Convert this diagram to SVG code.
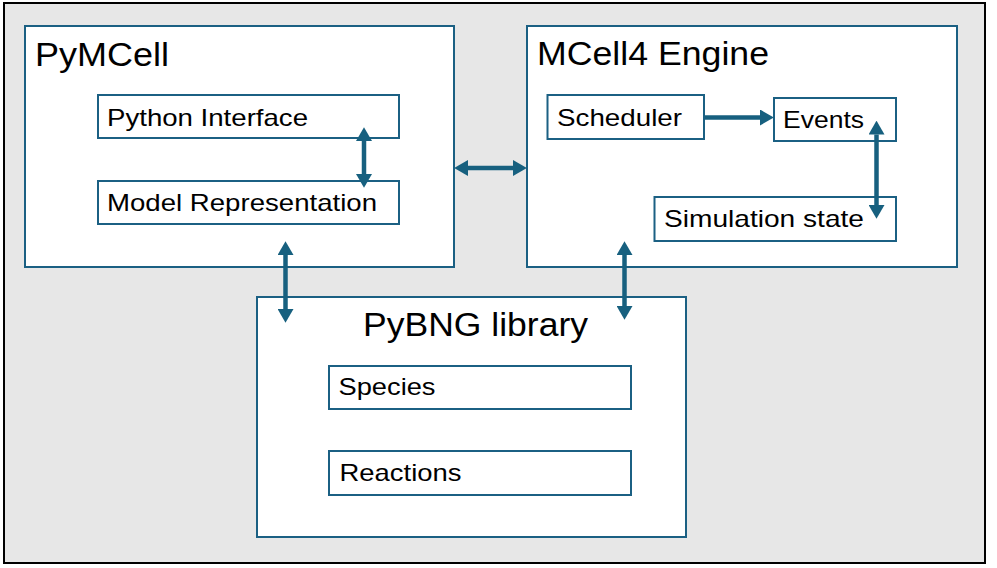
<svg xmlns="http://www.w3.org/2000/svg" width="997" height="568" viewBox="0 0 997 568">
<style>
.box{fill:#fff;stroke:#1b6083;stroke-width:2}
.t{font-family:"Liberation Sans",Arial,sans-serif;fill:#000}
.big{font-size:33px}
.sm{font-size:24px}
.c{stroke:#17607f;stroke-width:4.5;fill:none}
</style>
<defs>
<marker id="ah" markerUnits="userSpaceOnUse" markerWidth="14" markerHeight="16" refX="0" refY="7.5" orient="auto-start-reverse" viewBox="0 0 13 15">
<path d="M0,0 L13,7.5 L0,15 Z" fill="#17607f"/>
</marker>
</defs>
<rect x="4" y="3" width="981" height="560" fill="#e7e7e7" stroke="#000" stroke-width="2"/>
<g id="pymcell">
<rect class="box" x="25" y="26" width="429" height="241"/>
<text class="t big" x="35" y="66" textLength="134" lengthAdjust="spacingAndGlyphs">PyMCell</text>
</g>
<g id="python-interface">
<rect class="box" x="98" y="95" width="301" height="43"/>
<text class="t sm" x="107" y="125.5" textLength="201" lengthAdjust="spacingAndGlyphs">Python Interface</text>
</g>
<g id="model-representation">
<rect class="box" x="98" y="181" width="301" height="43"/>
<text class="t sm" x="107" y="211" textLength="270" lengthAdjust="spacingAndGlyphs">Model Representation</text>
</g>
<g id="mcell4">
<rect class="box" x="527" y="26" width="430" height="241"/>
<text class="t big" x="537" y="65" textLength="232" lengthAdjust="spacingAndGlyphs">MCell4 Engine</text>
</g>
<g id="scheduler">
<rect class="box" x="547.5" y="95" width="156.5" height="44"/>
<text class="t sm" x="557" y="126" textLength="125" lengthAdjust="spacingAndGlyphs">Scheduler</text>
</g>
<g id="events">
<rect class="box" x="774" y="98" width="122" height="43"/>
<text class="t sm" x="783" y="128" textLength="81" lengthAdjust="spacingAndGlyphs">Events</text>
</g>
<g id="simulation-state">
<rect class="box" x="654.5" y="197" width="241.5" height="44"/>
<text class="t sm" x="664" y="227" textLength="200" lengthAdjust="spacingAndGlyphs">Simulation state</text>
</g>
<g id="pybng">
<rect class="box" x="257" y="297" width="429" height="240"/>
<text class="t big" x="363" y="336" textLength="225" lengthAdjust="spacingAndGlyphs">PyBNG library</text>
</g>
<g id="species">
<rect class="box" x="329" y="366" width="302" height="43"/>
<text class="t sm" x="338.5" y="395" textLength="97" lengthAdjust="spacingAndGlyphs">Species</text>
</g>
<g id="reactions">
<rect class="box" x="329" y="451" width="302" height="44"/>
<text class="t sm" x="339.5" y="481" textLength="122" lengthAdjust="spacingAndGlyphs">Reactions</text>
</g>
<g id="connectors">
<line class="c" x1="364" y1="141" x2="364" y2="174" marker-start="url(#ah)" marker-end="url(#ah)"/>
<line class="c" x1="468" y1="168" x2="513" y2="168" marker-start="url(#ah)" marker-end="url(#ah)"/>
<line class="c" x1="705" y1="117.5" x2="760" y2="117.5" marker-end="url(#ah)"/>
<line class="c" x1="876.5" y1="134.5" x2="876.5" y2="205" marker-start="url(#ah)" marker-end="url(#ah)"/>
<line class="c" x1="285.5" y1="255" x2="285.5" y2="309" marker-start="url(#ah)" marker-end="url(#ah)"/>
<line class="c" x1="624.5" y1="255" x2="624.5" y2="306" marker-start="url(#ah)" marker-end="url(#ah)"/>
</g>
</svg>
